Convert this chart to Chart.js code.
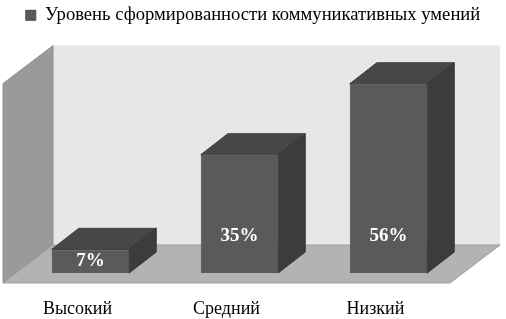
<!DOCTYPE html>
<html>
<head>
<meta charset="utf-8">
<script src="https://cdn.jsdelivr.net/npm/chart.js@4"></script>
<style>
  html, body { margin: 0; padding: 0; background: #fff; }
  #wrap { width: 506px; height: 319px; }
</style>
</head>
<body>
<div id="wrap"><canvas id="chart" width="506" height="319"></canvas></div>
<script>
const categories = ['Высокий', 'Средний', 'Низкий'];
const values = [7, 35, 56];
const seriesName = 'Уровень сформированности коммуникативных умений';
const yMax = 59;

// depth of the 3D box (front plane -> back wall) and where the bars sit in it
const DEPTH_X = 50, DEPTH_Y = -38;
const FRONT_X = -13, FRONT_Y = 10;     // floor front edge relative to bar front plane
const BAR_DX = 27, BAR_DY = -21;       // bar depth

const serif = '"Liberation Serif", "Times New Roman", serif';

function poly(ctx, pts, fill, stroke) {
    ctx.beginPath();
    ctx.moveTo(pts[0][0], pts[0][1]);
    for (let i = 1; i < pts.length; i++) ctx.lineTo(pts[i][0], pts[i][1]);
    ctx.closePath();
    ctx.fillStyle = fill;
    ctx.fill();
    if (stroke) {
        ctx.strokeStyle = stroke;
        ctx.lineWidth = 1;
        ctx.stroke();
    }
}

// leave room under the legend for the top of the 3D box
const legendGap = {
    id: 'legendGap',
    beforeInit(chart) {
        const fit = chart.legend.fit;
        chart.legend.fit = function () {
            fit.call(this);
            this.height += 39;
        };
    }
};

// Walls and floor of the 3D box
const wallsPlugin = {
    id: 'walls',
    beforeDatasetsDraw(chart) {
        const { ctx, chartArea: a } = chart;
        const fx0 = a.left + FRONT_X, fx1 = a.right + FRONT_X;
        const fyTop = a.top + FRONT_Y, fyBot = a.bottom + FRONT_Y;
        ctx.save();
        // back wall
        poly(ctx, [
            [fx0 + DEPTH_X, fyTop + DEPTH_Y], [fx1 + DEPTH_X, fyTop + DEPTH_Y],
            [fx1 + DEPTH_X, fyBot + DEPTH_Y], [fx0 + DEPTH_X, fyBot + DEPTH_Y]
        ], '#e7e7e7');
        // left wall
        poly(ctx, [
            [fx0, fyTop], [fx0 + DEPTH_X, fyTop + DEPTH_Y],
            [fx0 + DEPTH_X, fyBot + DEPTH_Y], [fx0, fyBot]
        ], '#9a9a9a', '#8f8f8f');
        // floor
        poly(ctx, [
            [fx0, fyBot], [fx1, fyBot],
            [fx1 + DEPTH_X, fyBot + DEPTH_Y], [fx0 + DEPTH_X, fyBot + DEPTH_Y]
        ], '#b3b3b3', '#9c9c9c');
        ctx.restore();
    }
};

// Top and side faces of the bars, plus value labels
const bars3dPlugin = {
    id: 'bars3d',
    afterDatasetsDraw(chart) {
        const { ctx } = chart;
        const meta = chart.getDatasetMeta(0);
        ctx.save();
        meta.data.forEach((bar, i) => {
            const x0 = bar.x - bar.width / 2, x1 = bar.x + bar.width / 2;
            const top = bar.y, base = bar.base;
            poly(ctx, [[x0, top], [x1, top], [x1 + BAR_DX, top + BAR_DY], [x0 + BAR_DX, top + BAR_DY]], '#474747', '#3f3f3f');
            poly(ctx, [[x1, top], [x1 + BAR_DX, top + BAR_DY], [x1 + BAR_DX, base + BAR_DY], [x1, base]], '#3c3c3c', '#363636');

            const ly = Math.max((top + base) / 2, base - 37);
            ctx.fillStyle = '#ffffff';
            ctx.font = 'bold 19px ' + serif;
            ctx.textAlign = 'center';
            ctx.textBaseline = 'middle';
            ctx.fillText(values[i] + '%', bar.x, ly);
        });
        ctx.restore();
    }
};

// invisible side axes that only reserve space left and right of the plot
function spacerAxis(position, width) {
    return {
        type: 'linear',
        position: position,
        display: true,
        grid: { display: false, drawTicks: false },
        border: { display: false },
        ticks: { display: false },
        afterFit(scale) { scale.width = width; }
    };
}

const ctx = document.getElementById('chart').getContext('2d');
new Chart(ctx, {
    type: 'bar',
    data: {
        labels: categories,
        datasets: [{
            label: seriesName,
            data: values,
            backgroundColor: '#5a5a5a',
            borderColor: '#4c4c4c',
            borderWidth: 1,
            categoryPercentage: 1,
            barPercentage: 0.52
        }]
    },
    options: {
        responsive: false,
        animation: false,
        layout: { padding: 0 },
        plugins: {
            legend: {
                display: true,
                position: 'top',
                labels: {
                    boxWidth: 10,
                    boxHeight: 10,
                    padding: 6,
                    color: '#000',
                    font: { family: serif, size: 18.6 }
                }
            },
            tooltip: { enabled: false }
        },
        scales: {
            x: {
                grid: { display: false, drawTicks: false },
                border: { display: false },
                afterFit(scale) { scale.height = 46; },
                ticks: {
                    color: '#000',
                    padding: 25,
                    labelOffset: -13,
                    font: { family: serif, size: 18 }
                }
            },
            y: Object.assign(spacerAxis('left', 16), { min: 0, max: yMax }),
            yRight: spacerAxis('right', 43)
        }
    },
    plugins: [legendGap, wallsPlugin, bars3dPlugin]
});
</script>
</body>
</html>
